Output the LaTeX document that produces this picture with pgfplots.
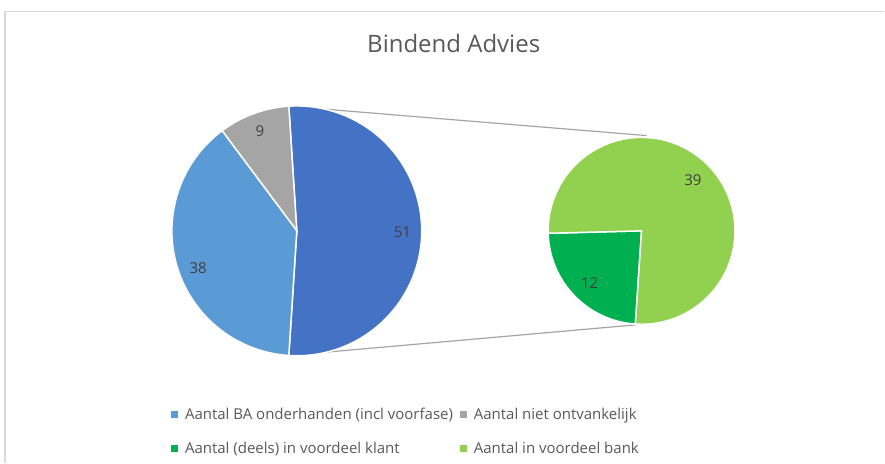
\documentclass[border=0pt]{standalone}
\usepackage{pgfplots}
\pgfplotsset{compat=1.18}
\usepackage{pgfplotstable}
\usepackage{fontspec}
\setmainfont{Open Sans}
\definecolor{cBA}{HTML}{5B9BD5}
\definecolor{cOther}{HTML}{4472C4}
\definecolor{cNiet}{HTML}{A5A5A5}
\definecolor{cKlant}{HTML}{00B050}
\definecolor{cBank}{HTML}{92D050}
\definecolor{cTxt}{HTML}{404040}
\definecolor{cTitle}{HTML}{595959}
\definecolor{cFrame}{HTML}{D9D9D9}

\pgfplotstableread{
name value
BA 38
niet 9
}\maindata
\pgfplotstableread{
name value
klant 12
bank 39
}\subdata

\begin{document}
\begin{tikzpicture}
\pgfplotstablegetelem{0}{value}\of\maindata \let\vBA\pgfplotsretval
\pgfplotstablegetelem{1}{value}\of\maindata \let\vNiet\pgfplotsretval
\pgfplotstablegetelem{0}{value}\of\subdata \let\vKlant\pgfplotsretval
\pgfplotstablegetelem{1}{value}\of\subdata \let\vBank\pgfplotsretval
\pgfmathtruncatemacro\vOther{\vKlant+\vBank}
\pgfmathsetmacro\tot{\vBA+\vNiet+\vOther}
\pgfmathsetmacro\aOther{\vOther/\tot*360}
\pgfmathsetmacro\aS{-\aOther/2}
\pgfmathsetmacro\aE{\aOther/2}
\pgfmathsetmacro\aNiet{\aE+\vNiet/\tot*360}
\pgfmathsetmacro\aBA{360+\aS}
\pgfmathsetmacro\bS{181.5}
\pgfmathsetmacro\bE{\bS+\vKlant/\vOther*360}
\pgfmathsetmacro\bF{\bS+360}
\begin{axis}[width=885bp, height=463bp, scale only axis,
  xmin=0, xmax=885, ymin=0, ymax=463, hide axis, clip=false]
% background and frame
\path[fill=white] (axis cs:0,0) rectangle (axis cs:885,463);
\draw[cFrame, line width=1.2bp] (axis cs:5,0) -- (axis cs:5,451.5) -- (axis cs:885,451.5);
% title
\node[anchor=base, text=cTitle, font=\fontsize{24bp}{28bp}\selectfont] at (axis cs:454,410) {Bindend Advies};
% connector lines
\draw[cNiet, line width=1.2bp] (axis cs:289,356.7) -- (axis cs:647,327.3);
\draw[cNiet, line width=1.2bp] (axis cs:289,107.3) -- (axis cs:637,138);
% main pie
\filldraw[fill=cOther, draw=white, line width=1.5bp] (axis cs:297,232) -- ++(\aS:125bp) arc[start angle=\aS, end angle=\aE, radius=125bp] -- cycle;
\filldraw[fill=cNiet, draw=white, line width=1.5bp] (axis cs:297,232) -- ++(\aE:125bp) arc[start angle=\aE, end angle=\aNiet, radius=125bp] -- cycle;
\filldraw[fill=cBA, draw=white, line width=1.5bp] (axis cs:297,232) -- ++(\aNiet:125bp) arc[start angle=\aNiet, end angle=\aBA, radius=125bp] -- cycle;
% second pie
\filldraw[fill=cKlant, draw=white, line width=1.5bp] (axis cs:642,232) -- ++(\bS:93.5bp) arc[start angle=\bS, end angle=\bE, radius=93.5bp] -- cycle;
\filldraw[fill=cBank, draw=white, line width=1.5bp] (axis cs:642,232) -- ++(\bE:93.5bp) arc[start angle=\bE, end angle=\bF, radius=93.5bp] -- cycle;
% data labels
\begin{scope}[every node/.style={text=cTxt, font=\fontsize{15bp}{18bp}\selectfont}]
\node at (axis cs:402.7,230.3) {\vOther};
\node at (axis cs:260,331.3) {\vNiet};
\node at (axis cs:198.3,194.7) {\vBA};
\node at (axis cs:693.3,283) {\vBank};
\node at (axis cs:590,179.7) {\vKlant};
\end{scope}
% legend
\begin{scope}[every node/.style={text=cTitle, font=\fontsize{15bp}{18bp}\selectfont, anchor=mid west, inner sep=0pt}]
\fill[cBA] (axis cs:171.5,44.5) rectangle (axis cs:178.5,51.5);
\node at (axis cs:185,46) {Aantal BA onderhanden (incl voorfase)};
\fill[cNiet] (axis cs:460.5,44.5) rectangle (axis cs:467.5,51.5);
\node at (axis cs:474,46) {Aantal niet ontvankelijk};
\fill[cKlant] (axis cs:171.5,10.5) rectangle (axis cs:178.5,17.5);
\node at (axis cs:185,12) {Aantal (deels) in voordeel klant};
\fill[cBank] (axis cs:460.5,10.5) rectangle (axis cs:467.5,17.5);
\node at (axis cs:474,12) {Aantal in voordeel bank};
\end{scope}
\end{axis}
\end{tikzpicture}
\end{document}
